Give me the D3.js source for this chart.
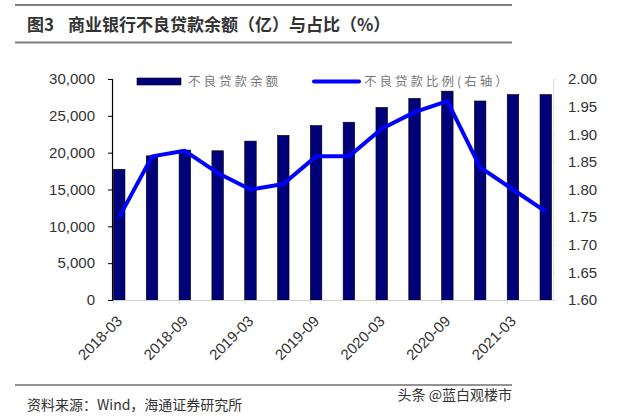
<!DOCTYPE html>
<html lang="zh">
    <head>
        <meta charset="utf-8">
        <title>商业银行不良贷款余额与占比</title>
        <script type="text/javascript" src="https://cdnjs.cloudflare.com/ajax/libs/d3/7.8.5/d3.min.js"></script>
        <style>
            body { margin: 0; background: #fff; }
            text { font-family: "Liberation Sans", Arial, sans-serif; white-space: pre; }
            .cjk { font-family: "Noto Sans CJK SC", sans-serif; }
        </style>
    </head>
    <body>
        <script type="text/javascript">

            var quarters = ["2018-03", "2018-06", "2018-09", "2018-12", "2019-03", "2019-06", "2019-09",
                "2019-12", "2020-03", "2020-06", "2020-09", "2020-12", "2021-03", "2021-06"];
            var nplBalance = [17742, 19571, 20354, 20254, 21571, 22352, 23672,
                24135, 26137, 27365, 28350, 27015, 27883, 27881];
            var nplRatio = [1.75, 1.86, 1.87, 1.83, 1.80, 1.81, 1.86,
                1.86, 1.91, 1.94, 1.96, 1.84, 1.80, 1.76];
            var leftTicks = [0, 5000, 10000, 15000, 20000, 25000, 30000];
            var rightTicks = [1.60, 1.65, 1.70, 1.75, 1.80, 1.85, 1.90, 1.95, 2.00];
            var shownLabels = ["2018-03", "2018-09", "2019-03", "2019-09", "2020-03", "2020-09", "2021-03"];

            var w = 640;
            var h = 417;
            var plotL = 112, plotR = 553, plotT = 79, plotB = 300;

            var svg = d3.select("body")
                .append("svg")
                .attr("width", w)
                .attr("height", h);

            // title and rules
            svg.append("line")
                .attr("x1", 15).attr("x2", 512).attr("y1", 5).attr("y2", 5)
                .attr("stroke", "#7f7f7f").attr("stroke-width", 2);
            svg.append("line")
                .attr("x1", 15).attr("x2", 512).attr("y1", 42.5).attr("y2", 42.5)
                .attr("stroke", "#7f7f7f").attr("stroke-width", 2);
            svg.append("text")
                .attr("class", "cjk")
                .attr("x", 27).attr("y", 31)
                .attr("font-size", 17)
                .attr("font-weight", "bold")
                .attr("fill", "#333")
                .text("图3");
            svg.append("text")
                .attr("class", "cjk")
                .attr("x", 68).attr("y", 31)
                .attr("font-size", 17)
                .attr("font-weight", "bold")
                .attr("fill", "#333")
                .text("商业银行不良贷款余额（亿）与占比（%）");

            var x = d3.scalePoint()
                .domain(quarters)
                .range([plotL, plotR])
                .padding(0.22);

            var yLeft = d3.scaleLinear()
                .domain([0, 30000])
                .range([plotB, plotT]);

            var yRight = d3.scaleLinear()
                .domain([1.6, 2.0])
                .range([plotB, plotT]);

            var barW = 11.5;

            svg.selectAll("rect.bar")
                .data(nplBalance)
                .enter()
                .append("rect")
                .attr("class", "bar")
                .attr("x", function(d, i){ return x(quarters[i]) - barW/2; })
                .attr("y", function(d){ return yLeft(d); })
                .attr("width", barW)
                .attr("height", function(d){ return plotB - yLeft(d); })
                .attr("fill", "#000078")
                .attr("stroke", "#000")
                .attr("stroke-width", 0.6);

            // x axis line and faint ticks
            svg.append("line")
                .attr("x1", plotL).attr("x2", plotR).attr("y1", plotB + 0.5).attr("y2", plotB + 0.5)
                .attr("stroke", "#d0d0d0").attr("stroke-width", 1);
            svg.selectAll("line.xtick")
                .data(shownLabels)
                .enter()
                .append("line")
                .attr("class", "xtick")
                .attr("x1", function(d){ return x(d) - 5.5; })
                .attr("x2", function(d){ return x(d) - 5.5; })
                .attr("y1", plotB).attr("y2", plotB + 4)
                .attr("stroke", "#d0d0d0");

            // right axis
            var yAxisR = d3.axisRight(yRight)
                .tickValues(rightTicks)
                .tickSize(3)
                .tickFormat(d3.format(".2f"));
            var gR = svg.append("g")
                .attr("transform", "translate(" + plotR + ",0)")
                .call(yAxisR);
            gR.select(".domain").attr("stroke", "#e3e3e3");
            gR.selectAll(".tick line").attr("stroke", "#e3e3e3");
            gR.selectAll(".tick text")
                .attr("x", 15)
                .attr("font-size", 15)
                .attr("fill", "#333")
                .attr("font-family", "Liberation Sans, Arial, sans-serif");

            // left axis
            var yAxisL = d3.axisLeft(yLeft)
                .tickValues(leftTicks)
                .tickSize(4)
                .tickSizeOuter(4)
                .tickFormat(d3.format(","));
            var gL = svg.append("g")
                .attr("transform", "translate(" + plotL + ",0)")
                .call(yAxisL);
            gL.select(".domain").attr("stroke", "#000").attr("stroke-width", 1.2);
            gL.selectAll(".tick line").attr("stroke", "#000");
            gL.selectAll(".tick text")
                .attr("x", -17)
                .attr("font-size", 15)
                .attr("fill", "#333")
                .attr("font-family", "Liberation Sans, Arial, sans-serif");

            // ratio line
            var line = d3.line()
                .x(function(d, i){ return x(quarters[i]); })
                .y(function(d){ return yRight(d); });

            svg.append("path")
                .datum(nplRatio)
                .attr("d", line)
                .attr("fill", "none")
                .attr("stroke", "#0000ff")
                .attr("stroke-width", 4)
                .attr("stroke-linejoin", "round");

            // x labels
            svg.selectAll("text.xlab")
                .data(shownLabels)
                .enter()
                .append("text")
                .attr("class", "xlab")
                .attr("transform", function(d){ return "translate(" + (x(d) + 4) + "," + (plotB + 22) + ") rotate(-45)"; })
                .attr("text-anchor", "end")
                .attr("font-size", 15)
                .attr("fill", "#333")
                .text(function(d){ return d; });

            // legend
            svg.append("rect")
                .attr("x", 137).attr("y", 78).attr("width", 44).attr("height", 7)
                .attr("fill", "#000078").attr("stroke", "#000").attr("stroke-width", 0.6);
            svg.append("text")
                .attr("class", "cjk")
                .attr("x", 188).attr("y", 86)
                .attr("font-size", 12.5)
                .attr("letter-spacing", 3)
                .attr("fill", "#777")
                .text("不良贷款余额");
            svg.append("line")
                .attr("x1", 314).attr("x2", 359).attr("y1", 81.5).attr("y2", 81.5)
                .attr("stroke", "#0000ff").attr("stroke-width", 4).attr("stroke-linecap", "round");
            svg.append("text")
                .attr("class", "cjk")
                .attr("x", 364).attr("y", 86)
                .attr("font-size", 12.5)
                .attr("letter-spacing", 3)
                .attr("fill", "#777")
                .text("不良贷款比例(右轴）");

            // footer
            svg.append("line")
                .attr("x1", 15).attr("x2", 512).attr("y1", 385).attr("y2", 385)
                .attr("stroke", "#6f6f6f").attr("stroke-width", 1.5);
            svg.append("text")
                .attr("class", "cjk")
                .attr("x", 27).attr("y", 410)
                .attr("font-size", 14)
                .attr("fill", "#333")
                .text("资料来源：Wind，海通证券研究所");
            svg.append("text")
                .attr("class", "cjk")
                .attr("x", 512).attr("y", 400)
                .attr("text-anchor", "end")
                .attr("font-size", 14)
                .attr("fill", "#333")
                .text("头条 @蓝白观楼市");

        </script>
    </body>
</html>
